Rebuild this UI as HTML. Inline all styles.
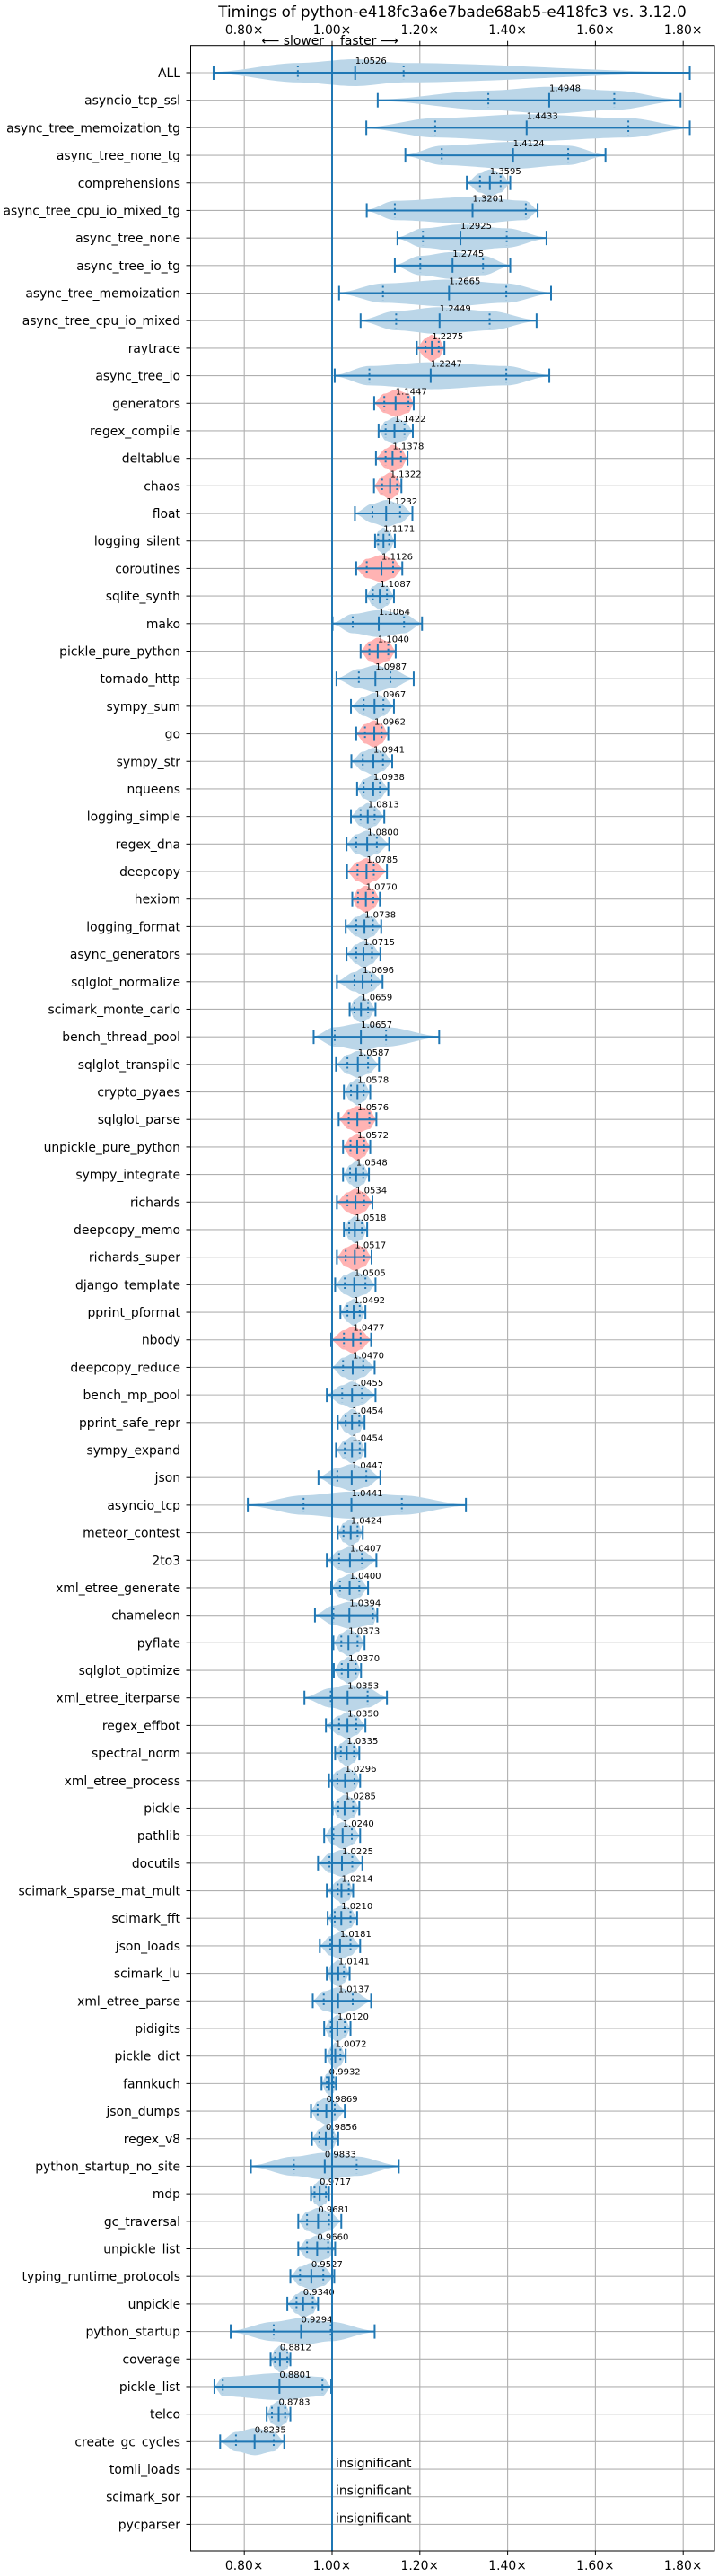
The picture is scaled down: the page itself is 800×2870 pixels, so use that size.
<!DOCTYPE html>
<html><head><meta charset="utf-8"><style>
html,body{margin:0;padding:0;background:#fff;}
svg{display:block;font-family:"DejaVu Sans","Liberation Sans",sans-serif;}
</style></head><body>
<svg id="chart" width="800" height="2870" viewBox="0 0 800 2870" xmlns="http://www.w3.org/2000/svg">
<text x="504" y="19" text-anchor="middle" font-size="16.7" fill="#000">Timings of python-e418fc3a6e7bade68ab5-e418fc3 vs. 3.12.0</text>
<text x="361" y="50" text-anchor="end" font-size="13.9" fill="#000">⟵ slower</text>
<text x="379" y="50" text-anchor="start" font-size="13.9" fill="#000">faster ⟶</text>
<g id="grid"></g>
<g id="marks"></g>
<g id="axes"></g>
</svg>
<script>
const names=["ALL","asyncio_tcp_ssl","async_tree_memoization_tg","async_tree_none_tg","comprehensions","async_tree_cpu_io_mixed_tg","async_tree_none","async_tree_io_tg","async_tree_memoization","async_tree_cpu_io_mixed","raytrace","async_tree_io","generators","regex_compile","deltablue","chaos","float","logging_silent","coroutines","sqlite_synth","mako","pickle_pure_python","tornado_http","sympy_sum","go","sympy_str","nqueens","logging_simple","regex_dna","deepcopy","hexiom","logging_format","async_generators","sqlglot_normalize","scimark_monte_carlo","bench_thread_pool","sqlglot_transpile","crypto_pyaes","sqlglot_parse","unpickle_pure_python","sympy_integrate","richards","deepcopy_memo","richards_super","django_template","pprint_pformat","nbody","deepcopy_reduce","bench_mp_pool","pprint_safe_repr","sympy_expand","json","asyncio_tcp","meteor_contest","2to3","xml_etree_generate","chameleon","pyflate","sqlglot_optimize","xml_etree_iterparse","regex_effbot","spectral_norm","xml_etree_process","pickle","pathlib","docutils","scimark_sparse_mat_mult","scimark_fft","json_loads","scimark_lu","xml_etree_parse","pidigits","pickle_dict","fannkuch","json_dumps","regex_v8","python_startup_no_site","mdp","gc_traversal","unpickle_list","typing_runtime_protocols","unpickle","python_startup","coverage","pickle_list","telco","create_gc_cycles","tomli_loads","scimark_sor","pycparser"];
const medians=[1.0526,1.4948,1.4433,1.4124,1.3595,1.3201,1.2925,1.2745,1.2665,1.2449,
1.2275,1.2247,1.1447,1.1422,1.1378,1.1322,1.1232,1.1171,1.1126,1.1087,
1.1064,1.1040,1.0987,1.0967,1.0962,1.0941,1.0938,1.0813,1.0800,1.0785,
1.0770,1.0738,1.0715,1.0696,1.0659,1.0657,1.0587,1.0578,1.0576,1.0572,
1.0548,1.0534,1.0518,1.0517,1.0505,1.0492,1.0477,1.0470,1.0455,1.0454,
1.0454,1.0447,1.0441,1.0424,1.0407,1.0400,1.0394,1.0373,1.0370,1.0353,
1.0350,1.0335,1.0296,1.0285,1.0240,1.0225,1.0214,1.0210,1.0181,1.0141,
1.0137,1.0120,1.0072,0.9932,0.9869,0.9856,0.9833,0.9717,0.9681,0.9660,
0.9527,0.9340,0.9294,0.8812,0.8801,0.8783,0.8235,null,null,null];
const mins=[0.730,1.104,1.078,1.167,1.307,1.079,1.149,1.143,1.016,1.065,
1.193,1.006,1.096,1.106,1.100,1.0955,1.052,1.098,1.055,1.078,
1.001,1.065,1.010,1.043,1.055,1.044,1.057,1.043,1.033,1.034,
1.046,1.031,1.033,1.011,1.040,0.958,1.009,1.027,1.015,1.025,
1.025,1.011,1.027,1.011,1.007,1.019,0.998,1.000,0.988,1.013,
1.009,0.969,0.808,1.013,0.988,0.998,0.961,1.003,1.004,0.937,
0.986,1.007,0.993,1.001,0.982,0.968,0.988,0.990,0.972,0.988,
0.956,0.982,0.985,0.976,0.952,0.954,0.815,0.952,0.923,0.923,
0.905,0.898,0.769,0.860,0.732,0.851,0.745,null,null,null];
const q1s=[0.922,1.356,1.235,1.250,1.337,1.143,1.207,1.201,1.116,1.146,
1.213,1.085,1.119,1.122,1.122,1.114,1.092,1.105,1.079,1.093,
1.047,1.085,1.061,1.072,1.075,1.070,1.072,1.065,1.055,1.058,
1.059,1.055,1.055,1.051,1.051,1.006,1.035,1.043,1.038,1.042,
1.041,1.035,1.039,1.031,1.029,1.035,1.027,1.025,1.023,1.031,
1.029,1.012,0.935,1.026,1.016,1.018,1.003,1.021,1.022,0.997,
1.016,1.020,1.012,1.014,1.003,0.994,1.013,1.006,0.996,1.000,
0.981,0.997,0.999,0.988,0.967,0.971,0.913,0.960,0.943,0.943,
0.927,0.919,0.867,0.870,0.751,0.863,0.781,null,null,null];
const q3s=[1.163,1.643,1.675,1.538,1.384,1.4415,1.398,1.344,1.397,1.359,
1.243,1.397,1.174,1.165,1.157,1.148,1.155,1.130,1.139,1.125,
1.164,1.128,1.133,1.117,1.113,1.116,1.109,1.097,1.102,1.095,
1.094,1.093,1.091,1.090,1.082,1.123,1.082,1.072,1.085,1.073,
1.071,1.073,1.068,1.073,1.076,1.063,1.065,1.071,1.068,1.062,
1.063,1.078,1.159,1.058,1.068,1.062,1.093,1.058,1.054,1.081,
1.055,1.050,1.051,1.048,1.045,1.046,1.038,1.042,1.042,1.027,
1.047,1.029,1.019,1.003,1.006,1.001,1.056,0.986,0.993,0.991,
0.980,0.956,0.997,0.898,0.978,0.893,0.867,null,null,null];
const maxs=[1.815,1.794,1.815,1.623,1.406,1.4685,1.4886,1.406,1.499,1.466,
1.256,1.495,1.186,1.184,1.172,1.158,1.183,1.143,1.160,1.141,
1.205,1.145,1.186,1.141,1.128,1.137,1.128,1.119,1.130,1.125,
1.109,1.112,1.110,1.115,1.099,1.244,1.107,1.087,1.101,1.087,
1.084,1.092,1.080,1.090,1.099,1.076,1.089,1.097,1.099,1.074,
1.076,1.110,1.305,1.070,1.101,1.082,1.103,1.074,1.066,1.125,
1.076,1.062,1.064,1.062,1.064,1.069,1.048,1.057,1.064,1.040,
1.089,1.042,1.031,1.009,1.029,1.014,1.152,0.993,1.021,1.007,
1.005,0.968,1.097,0.905,0.998,0.905,0.891,null,null,null];
const redRows=["raytrace","generators","deltablue","chaos","coroutines","pickle_pure_python","go","deepcopy","hexiom","sqlglot_parse","unpickle_pure_python","richards","richards_super","nbody"];
const xTicks=[0.8,1.0,1.2,1.4,1.6,1.8];
const xTickLabels=["0.80×","1.00×","1.20×","1.40×","1.60×","1.80×"];

const NS="http://www.w3.org/2000/svg";
const L=212.5,R=796,T=50.7,B=2842;
const X0=370,XS=489;
function xs(v){return X0+(v-1)*XS;}
function ys(i){return 81+i*30.69;}
function mk(tag,attrs,parent){const e=document.createElementNS(NS,tag);for(const k in attrs)e.setAttribute(k,attrs[k]);parent.appendChild(e);return e;}
const grid=document.getElementById('grid'),marks=document.getElementById('marks'),axes=document.getElementById('axes');
const BLUE="#1f77b4";

xTicks.forEach((t,k)=>{
  const x=xs(t);
  const g=mk('line',{x1:x,x2:x,y1:T,y2:B,stroke:"#b0b0b0","stroke-width":1.1},grid);
  
  
  const tt=mk('line',{x1:x,x2:x,y1:T-5,y2:T,stroke:"#000","stroke-width":1},axes);
  
  
  const tb=mk('line',{x1:x,x2:x,y1:B,y2:B+5,stroke:"#000","stroke-width":1},axes);
  
  
  const lt=mk('text',{x:x,y:38,"text-anchor":"middle","font-size":13.9,fill:"#000"},axes);
  lt.textContent=xTickLabels[k];
  
  
  const lb=mk('text',{x:x,y:2863,"text-anchor":"middle","font-size":13.9,fill:"#000"},axes);
  lb.textContent=xTickLabels[k];
  
  
});

function sm(t){return t*t*(3-2*t);}
function profile(v,st){
  for(let j=0;j<st.length-1;j++){
    const a=st[j],b=st[j+1];
    if(v>=a[0]&&v<=b[0]){const t=b[0]===a[0]?0:(v-a[0])/(b[0]-a[0]);return a[1]+(b[1]-a[1])*sm(t);}
  }
  return 0;
}

names.forEach((n,i)=>{
  const y=ys(i);
  const gl=mk('line',{x1:L,x2:R,y1:y,y2:y,stroke:"#b0b0b0","stroke-width":1.1},grid);
  
  
  const tk=mk('line',{x1:L-5,x2:L,y1:y,y2:y,stroke:"#000","stroke-width":1},axes);
  
  
  const lab=mk('text',{x:201,y:y+5,"text-anchor":"end","font-size":13.9,fill:"#000"},axes);
  lab.textContent=n;
  
  
  const med=medians[i];
  if(med===null){
    const it=mk('text',{x:374,y:y-2,"font-size":13.9,fill:"#000"},marks);
    it.textContent="insignificant";
    
    
    return;
  }
  const mn=mins[i],q1=q1s[i],q3=q3s[i],mx=maxs[i];
  const st=[[mn,0.06],[q1,0.72],[med,1],[q3,0.72],[mx,0.06]];
  const H=15, N=60;
  let top=[],bot=[];
  for(let k=0;k<=N;k++){
    const v=mn+(mx-mn)*k/N;
    const w=profile(v,st)*H;
    top.push(xs(v).toFixed(2)+","+(y-w).toFixed(2));
    bot.unshift(xs(v).toFixed(2)+","+(y+w).toFixed(2));
  }
  const red=redRows.indexOf(n)>=0;
  const vp=mk('polygon',{points:top.concat(bot).join(" "),fill:red?"#ffb3b3":"#bbd6e8"},marks);
  
  
  const hl=mk('line',{x1:xs(mn),x2:xs(mx),y1:y,y2:y,stroke:BLUE,"stroke-width":2},marks);
  
  
  [mn,mx,med].forEach(v=>{
    const c=mk('line',{x1:xs(v),x2:xs(v),y1:y-8,y2:y+8,stroke:BLUE,"stroke-width":2},marks);
    
    
  });
  [q1,q3].forEach(v=>{
    const c=mk('line',{x1:xs(v),x2:xs(v),y1:y-8,y2:y+8,stroke:BLUE,"stroke-width":2,"stroke-dasharray":"2,3.3"},marks);
    
    
  });
  const mt=mk('text',{x:xs(med),y:y-10,"font-size":10,fill:"#000"},marks);
  mt.textContent=med.toFixed(4);
  
  
});

const ref=mk('line',{x1:xs(1),x2:xs(1),y1:T,y2:B,stroke:BLUE,"stroke-width":2},marks);


const frame=mk('rect',{x:L,y:T,width:R-L,height:B-T,fill:"none",stroke:"#000","stroke-width":1},axes);


</script>
</body></html>
